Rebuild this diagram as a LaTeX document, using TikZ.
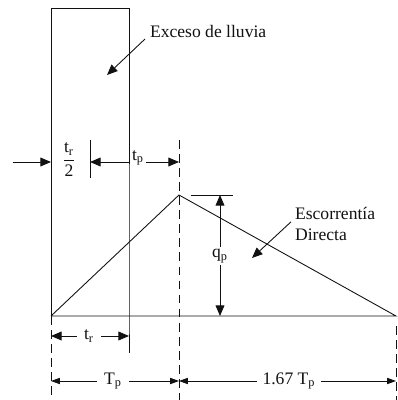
\documentclass[tikz,border=0pt]{standalone}
\usepackage{amsmath}
\usepackage{fontspec}
\setmainfont{Liberation Serif}
\usepackage{tikz}
\usetikzlibrary{arrows.meta,positioning,calc}
\definecolor{ink}{HTML}{111111}
\newcommand{\sbx}[2]{#1\textsubscript{#2}}
\tikzset{
  ln/.style={draw=ink,line width=0.5pt},
  arr/.style={ln,-{Triangle[length=6pt,width=5pt]}},
  arrs/.style={ln,-{Triangle[length=5pt,width=3.5pt]}},
  dsh/.style={ln,dash pattern=on 5pt off 3pt},
  lbl/.style={text=ink,inner sep=1pt}
}

\begin{document}
\begin{tikzpicture}[x=0.02cm,y=-0.02cm]
  \useasboundingbox (0,0) rectangle (397,400);
  % main points
  \coordinate (rtl) at (51,8);
  \coordinate (rtr) at (129,8);
  \coordinate (o) at (51,316);
  \coordinate (re) at (129,316);
  \coordinate (pk) at (179,195);
  \coordinate (te) at (396,316);
  % rainfall block and hydrograph
  \draw[ln] (o) -- (rtl) -- (rtr) -- (re) -- ++(0,37) coordinate (reb);
  \draw[dsh] (o) -- (51,400) coordinate (ob);
  \draw[ln] (o) -- (pk) -- (te) -- (o);
  \draw[dsh] (179,140) coordinate (pkt) -- (179,400) coordinate (pkb);
  \draw[dsh] (396,326) coordinate (tet) -- (396,400) coordinate (teb);

  \node[lbl,anchor=west] (exc) at (148,31) {Exceso de lluvia};
  \draw[arr] ([xshift=-0.06cm,yshift=-0.16cm]exc.west) -- (107,75) coordinate (exct);

  % t_r/2 and t_p
  \coordinate (hlf) at (90,162);
  \draw[ln] (90,140) -- (90,178);
  \node[lbl] (trh) at (69,160) {$\dfrac{\text{\sbx{t}{r}}}{\text{2}}$};
  \coordinate (in) at (13,162);
  \draw[arr] (in) -- (o |- hlf);
  \draw[arr] (re |- hlf) -- (hlf);
  \node[lbl] (tp) at (138,158) {\sbx{t}{p}};
  \draw[arr] (tp.east |- hlf) -- (pk |- hlf);

  % q_p
  \draw[ln] (191,195) -- (233,195);
  \node[lbl] (qp) at (220,256) {\sbx{q}{p}};
  \draw[arr] (qp.north) -- (qp |- pk);
  \draw[arr] (qp.south) -- (qp |- o);

  \node[lbl,anchor=north west,align=left] (esc) at (293,205) {Escorrentía\\Directa};
  \draw[arr] ([xshift=-0.04cm,yshift=0.04cm]esc.west) -- (252,258) coordinate (esct);

  % t_r
  \node[lbl] (tr) at (89,336) {\sbx{t}{r}};
  \draw[arr] ([xshift=-3pt]tr.west) -- (o |- tr);
  \draw[arr] ([xshift=3pt]tr.east) -- (re |- tr);

  % T_p and 1.67 T_p
  \node[lbl] (Tp) at (113,381) {\sbx{T}{p}};
  \draw[arrs] ([xshift=-3pt]Tp.west) -- (o |- Tp);
  \draw[arrs] ([xshift=3pt]Tp.east) -- (pk |- Tp);
  \node[lbl] (Tq) at (289,381) {1.67 \sbx{T}{p}};
  \draw[arrs] ([xshift=-2pt]Tq.west) -- (pk |- Tq);
  \draw[arrs] ([xshift=2pt]Tq.east) -- (te |- Tq);
\end{tikzpicture}
\end{document}
